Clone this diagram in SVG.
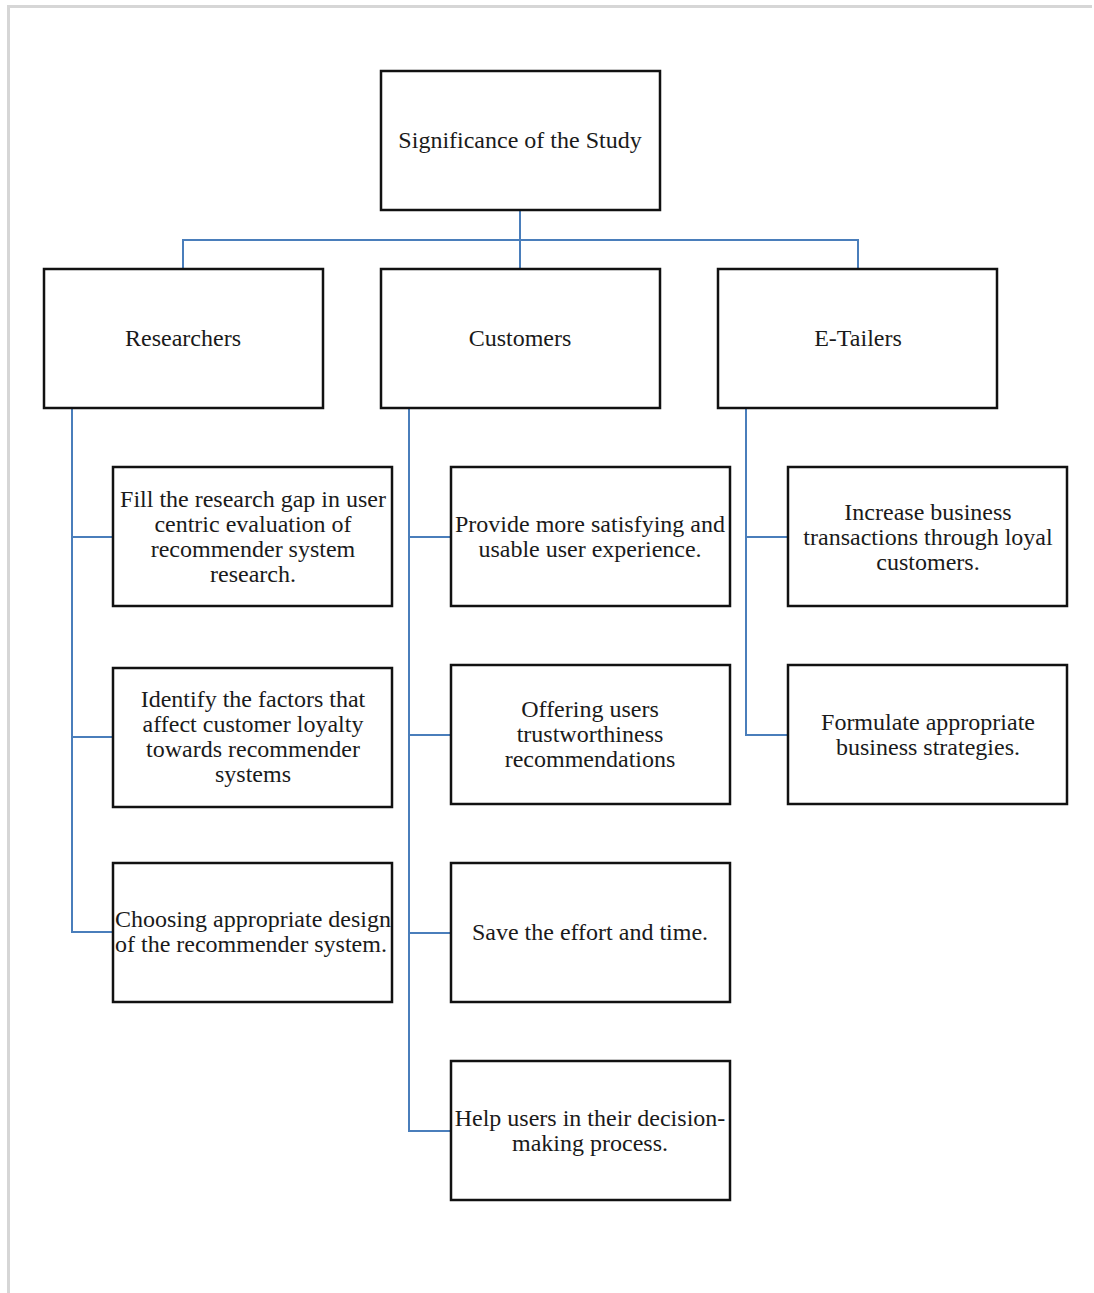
<svg xmlns="http://www.w3.org/2000/svg" width="1094" height="1293" viewBox="0 0 1094 1293">
<style>
.box{fill:#fff;stroke:#111;stroke-width:2.5}
.t{font-family:"Liberation Serif","Times New Roman",serif;font-size:24px;fill:#1a1a1a;text-anchor:middle}
.ts{font-family:"Liberation Serif","Times New Roman",serif;font-size:24px;fill:#1a1a1a;text-anchor:start}
.c{fill:none;stroke:#4a7ebb;stroke-width:2}
.frame{fill:none;stroke:#d6d6d6;stroke-width:3}
</style>
<rect width="1094" height="1293" fill="#fff"/>
<path class="frame" d="M8.5,1293 V6.5 H1092"/>
<g id="connectors">
<path class="c" d="M520,210 V240 M183,269 V240 H858 V269 M520,240 V269"/>
<path class="c" d="M72,408 V932 H113 M72,537 H113 M72,737 H113"/>
<path class="c" d="M409,408 V1131 H451 M409,537 H451 M409,735 H451 M409,933 H451"/>
<path class="c" d="M746,408 V735 H788 M746,537 H788"/>
</g>
<g id="root"><rect class="box" x="381" y="71" width="279" height="139"/><text class="t" x="520" y="148">Significance of the Study</text></g>
<g id="researchers"><rect class="box" x="44" y="269" width="279" height="139"/><text class="t" x="183" y="346">Researchers</text></g>
<g id="customers"><rect class="box" x="381" y="269" width="279" height="139"/><text class="t" x="520" y="346">Customers</text></g>
<g id="etailers"><rect class="box" x="718" y="269" width="279" height="139"/><text class="t" x="858" y="346">E-Tailers</text></g>
<g id="r1"><rect class="box" x="113" y="467" width="279" height="139"/><text class="t" x="253" y="507">Fill the research gap in user</text><text class="t" x="253" y="532">centric evaluation of</text><text class="t" x="253" y="557">recommender system</text><text class="t" x="253" y="582">research.</text></g>
<g id="r2"><rect class="box" x="113" y="668" width="279" height="139"/><text class="t" x="253" y="707">Identify the factors that</text><text class="t" x="253" y="732">affect customer loyalty</text><text class="t" x="253" y="757">towards recommender</text><text class="t" x="253" y="782">systems</text></g>
<g id="r3"><rect class="box" x="113" y="863" width="279" height="139"/><text class="ts" x="115" y="927">Choosing appropriate design</text><text class="ts" x="115" y="952">of the recommender system.</text></g>
<g id="c1"><rect class="box" x="451" y="467" width="279" height="139"/><text class="t" x="590" y="532">Provide more satisfying and</text><text class="t" x="590" y="557">usable user experience.</text></g>
<g id="c2"><rect class="box" x="451" y="665" width="279" height="139"/><text class="t" x="590" y="717">Offering users</text><text class="t" x="590" y="742">trustworthiness</text><text class="t" x="590" y="767">recommendations</text></g>
<g id="c3"><rect class="box" x="451" y="863" width="279" height="139"/><text class="t" x="590" y="940">Save the effort and time.</text></g>
<g id="c4"><rect class="box" x="451" y="1061" width="279" height="139"/><text class="t" x="590" y="1126">Help users in their decision-</text><text class="t" x="590" y="1151">making process.</text></g>
<g id="e1"><rect class="box" x="788" y="467" width="279" height="139"/><text class="t" x="928" y="520">Increase business</text><text class="t" x="928" y="545">transactions through loyal</text><text class="t" x="928" y="570">customers.</text></g>
<g id="e2"><rect class="box" x="788" y="665" width="279" height="139"/><text class="t" x="928" y="730">Formulate appropriate</text><text class="t" x="928" y="755">business strategies.</text></g>
</svg>
